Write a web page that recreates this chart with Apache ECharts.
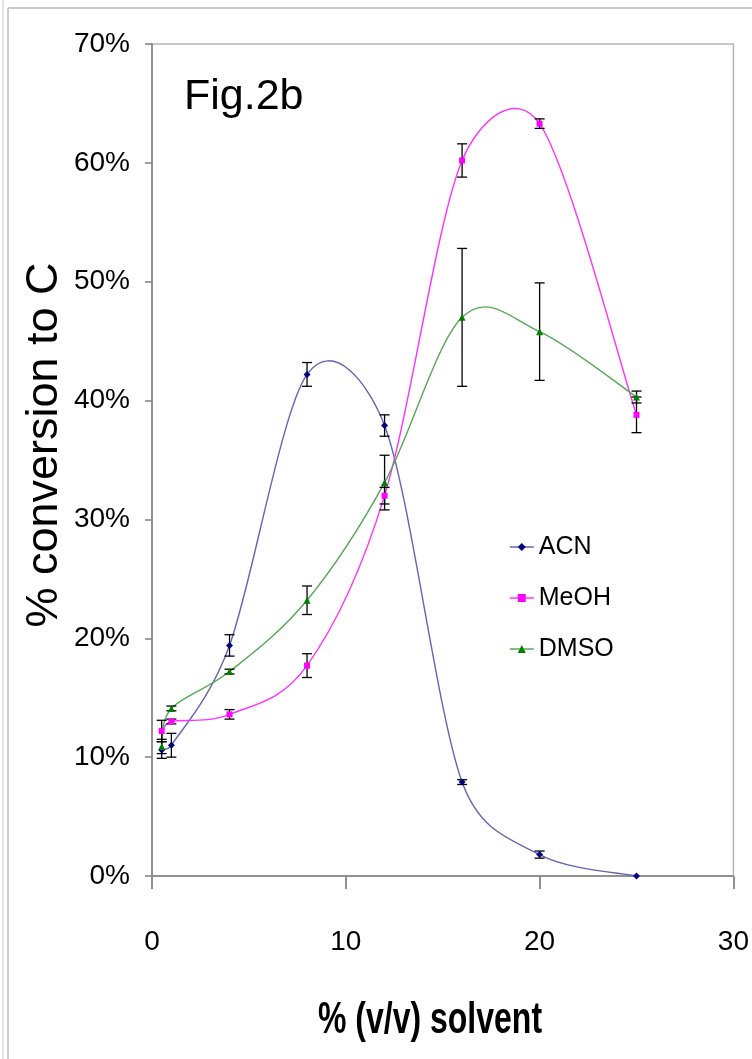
<!DOCTYPE html>
<html>
<head>
<meta charset="utf-8">
<script src="https://cdn.jsdelivr.net/npm/echarts@6/dist/echarts.min.js"></script>
<style>
  html, body { margin: 0; padding: 0; background: #fff; }
  #container { width: 752px; height: 1059px; }
</style>
</head>
<body>
<div id="container"></div>
<script>
// % (v/v) solvent
const solvent = [0.5, 1, 4, 8, 12, 16, 20, 25]

// % conversion to C, with +/- error
const acn = [10.6, 11.0, 19.4, 42.2, 37.9, 7.9, 1.8, 0.0]
const acnErr = [0.7, 1.0, 0.9, 1.0, 0.9, 0.2, 0.3, 0.0]
const meoh = [12.2, 13.0, 13.6, 17.7, 32.0, 60.2, 63.3, 38.8]
const meohErr = [0.9, 0.2, 0.4, 1.0, 0.7, 1.4, 0.4, 1.5]
const dmso = [10.9, 14.1, 17.2, 23.2, 33.1, 47.0, 45.8, 40.3]
const dmsoErr = [0.6, 0.2, 0.2, 1.2, 2.3, 5.8, 4.1, 0.5]

const sans = "'Liberation Sans', Arial, sans-serif"

const colors = {
    ACN: { mark: '#000080', line: '#6464b4' },
    MeOH: { mark: '#ff00ff', line: '#ff33ff' },
    DMSO: { mark: '#008000', line: '#55a855' }
}

const pairs = (ys) => solvent.map((x, i) => [x, ys[i]])
const errRows = (ys, es) => solvent.map((x, i) => [x, ys[i] - es[i], ys[i] + es[i]])

const errorBars = (name, rows) => ({
    name: name + '_err',
    type: 'custom',
    z: 3,
    silent: true,
    data: rows,
    renderItem: function (params, api) {
        let top = api.coord([api.value(0), api.value(2)])
        let bot = api.coord([api.value(0), api.value(1)])
        if (Math.abs(bot[1] - top[1]) < 0.5) return null
        let hw = 5
        let style = { stroke: '#000', lineWidth: 1.3 }
        return {
            type: 'group',
            children: [
                { type: 'line', shape: { x1: top[0], y1: top[1], x2: bot[0], y2: bot[1] }, style: style },
                { type: 'line', shape: { x1: top[0] - hw, y1: top[1], x2: top[0] + hw, y2: top[1] }, style: style },
                { type: 'line', shape: { x1: bot[0] - hw, y1: bot[1], x2: bot[0] + hw, y2: bot[1] }, style: style }
            ]
        }
    }
})

// spreadsheet-style smoothed line: one bezier segment per point, control
// handles 1/6 of the neighbour chord, capped at half the segment length
const dist = (a, b) => Math.hypot(a[0] - b[0], a[1] - b[1])
const smoothCurve = (name, ys) => ({
    name: name + '_curve',
    type: 'custom',
    z: 2,
    silent: true,
    data: pairs(ys),
    renderItem: function (params, api) {
        let i = params.dataIndex
        let n = solvent.length
        if (i >= n - 1) return null
        let pt = (k) => api.coord([solvent[k], ys[k]])
        let p1 = pt(i), p2 = pt(i + 1)
        let p0 = i > 0 ? pt(i - 1) : p1
        let p3 = i + 2 < n ? pt(i + 2) : p2
        let d12 = dist(p1, p2), d02 = dist(p0, p2), d13 = dist(p1, p3)
        let f0 = 1 / 6, f1 = 1 / 6
        if (d02 > 0 && d02 / 6 > d12 / 2) f0 = d12 / 2 / d02
        if (d13 > 0 && d13 / 6 > d12 / 2) f1 = d12 / 2 / d13
        let c1 = [p1[0] + f0 * (p2[0] - p0[0]), p1[1] + f0 * (p2[1] - p0[1])]
        let c2 = [p2[0] - f1 * (p3[0] - p1[0]), p2[1] - f1 * (p3[1] - p1[1])]
        return {
            type: 'bezierCurve',
            shape: { x1: p1[0], y1: p1[1], cpx1: c1[0], cpy1: c1[1], cpx2: c2[0], cpy2: c2[1], x2: p2[0], y2: p2[1] },
            style: { stroke: colors[name].line, lineWidth: 1.4, fill: null }
        }
    }
})

const markers = (name, ys, symbol, size) => ({
    name: name, type: 'line', data: pairs(ys), z: 4,
    symbol: symbol, symbolSize: size,
    itemStyle: { color: colors[name].mark },
    lineStyle: { opacity: 0 }
})

const legendItem = (name) => ({
    name: name,
    lineStyle: { color: colors[name].line, width: 1.5, opacity: 1 }
})

let chart = echarts.init(document.getElementById('container'))

chart.setOption({
    animation: false,
    backgroundColor: '#fff',
    grid: {
        left: 152, top: 44, right: 14, bottom: 183,
        show: true, borderColor: '#b4b4b4', borderWidth: 1.5
    },
    graphic: [
        { type: 'line', shape: { x1: 3, y1: 0, x2: 3, y2: 1059 }, style: { stroke: '#c8c8c8', lineWidth: 1 } },
        { type: 'line', shape: { x1: 8, y1: 8, x2: 752, y2: 8 }, style: { stroke: '#bdbdbd', lineWidth: 1.5 } },
        { type: 'line', shape: { x1: 8, y1: 8, x2: 8, y2: 1059 }, style: { stroke: '#bdbdbd', lineWidth: 1.5 } },
        {
            type: 'text', x: 184, y: 97,
            style: { text: 'Fig.2b', font: '43px ' + sans, fill: '#000', align: 'left', verticalAlign: 'middle' }
        },
        {
            type: 'text', x: 45, y: 445, rotation: Math.PI / 2,
            style: { text: '% conversion to C', font: '45px ' + sans, fill: '#000', align: 'center', verticalAlign: 'middle' }
        },
        {
            type: 'text', x: 430, y: 1021, scaleY: 1.4,
            style: { text: '% (v/v) solvent', font: 'bold 32px ' + sans, fill: '#000', align: 'center', verticalAlign: 'middle' }
        }
    ],
    legend: {
        orient: 'vertical',
        left: 504,
        top: 529,
        itemWidth: 24,
        itemHeight: 10,
        itemGap: 25,
        data: ['ACN', 'MeOH', 'DMSO'].map(legendItem),
        textStyle: { fontSize: 25, lineHeight: 26, fontFamily: sans, color: '#000' }
    },
    xAxis: {
        type: 'value',
        min: 0, max: 30, interval: 10,
        axisLine: { onZero: false, lineStyle: { color: '#808080', width: 1.5 } },
        axisTick: { length: 13, lineStyle: { color: '#909090', width: 2 } },
        axisLabel: { fontSize: 28, fontFamily: sans, color: '#000', margin: 52 },
        splitLine: { show: false }
    },
    yAxis: {
        type: 'value',
        min: 0, max: 70, interval: 10,
        axisLine: { onZero: false, lineStyle: { color: '#808080', width: 1.5 } },
        axisTick: { length: 7, lineStyle: { color: '#808080', width: 1.5 } },
        axisLabel: { fontSize: 28, fontFamily: sans, color: '#000', margin: 22, formatter: '{value}%' },
        splitLine: { show: false }
    },
    series: [
        smoothCurve('ACN', acn),
        smoothCurve('MeOH', meoh),
        smoothCurve('DMSO', dmso),
        errorBars('ACN', errRows(acn, acnErr)),
        errorBars('MeOH', errRows(meoh, meohErr)),
        errorBars('DMSO', errRows(dmso, dmsoErr)),
        markers('ACN', acn, 'diamond', 7),
        markers('MeOH', meoh, 'rect', 6),
        markers('DMSO', dmso, 'triangle', 7)
    ]
})
</script>
</body>
</html>
